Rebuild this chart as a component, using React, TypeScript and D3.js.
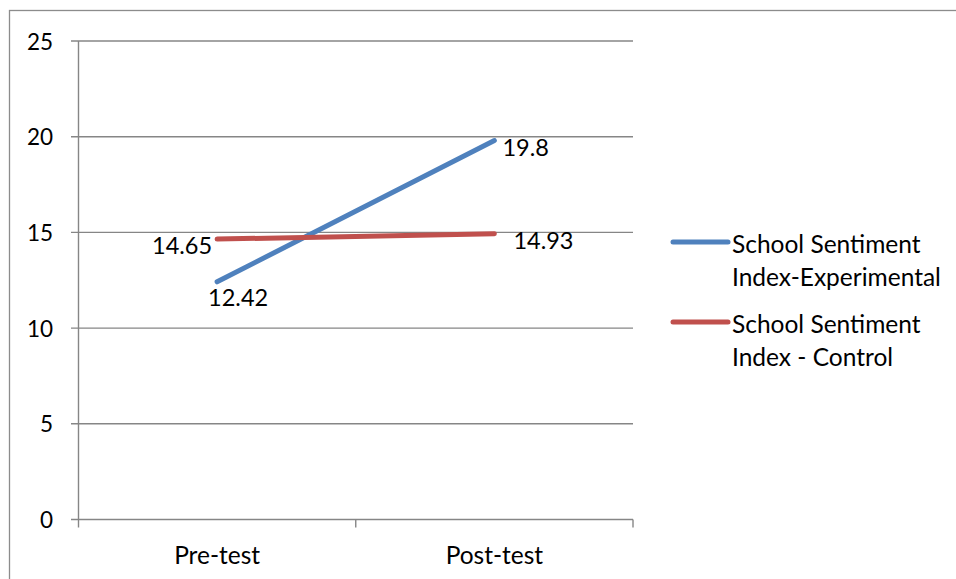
import React from "react";
import * as d3 from "d3";

const categories = ["Pre-test", "Post-test"];
const experimental = [12.42, 19.8];
const control = [14.65, 14.93];
const yTicks = [0, 5, 10, 15, 20, 25];
const seriesNames = ["School Sentiment|Index-Experimental", "School Sentiment|Index - Control"];
const colors = ["#4F81BD", "#C0504D"];

const W = 956;
const H = 579;
const FONT = "Lato, 'Open Sans', sans-serif";

export default function App() {
  const left = 78.5, right = 633, top = 41, bottom = 519.5;
  const x = d3.scaleBand<string>().domain(categories).range([left, right]);
  const y = d3.scaleLinear().domain([0, 25]).range([bottom, top]);
  const cx = (c: string) => (x(c) as number) + x.bandwidth() / 2;
  const line = d3.line<number>().x((_, i) => cx(categories[i])).y((v) => y(v));
  const series = [experimental, control];
  const grid = "#868686";

  const labelPos = [
    [ { dx: 21, dy: 15, anchor: "middle" }, { dx: 8, dy: 6, anchor: "start" } ],
    [ { dx: -5, dy: 6, anchor: "end" }, { dx: 19, dy: 6, anchor: "start" } ],
  ];

  return (
    <svg width={W} height={H} style={{ position: "absolute", left: 0, top: 0, background: "#fff" }}>
      <rect x={9.5} y={10.5} width={W + 20} height={H + 20} fill="#fff" stroke="#8c8c8c" strokeWidth={1.3} />
      {yTicks.map((t) => (
        <g key={t}>
          <line x1={left - 7.5} x2={right} y1={y(t)} y2={y(t)} stroke={grid} strokeWidth={1.4} />
          <text x={53} y={y(t)} textAnchor="end" dominantBaseline="central" fontFamily={FONT} fontSize={22.5} fill="#000">
            {t}
          </text>
        </g>
      ))}
      <line x1={left} x2={left} y1={top} y2={bottom} stroke={grid} strokeWidth={1.4} />
      {[...categories.map((c) => x(c) as number), right].map((v, i) => (
        <line key={i} x1={v} x2={v} y1={bottom} y2={bottom + 8} stroke={grid} strokeWidth={1.4} />
      ))}
      {categories.map((c) => (
        <text key={c} x={cx(c)} y={bottom + 35} textAnchor="middle" dominantBaseline="central" fontFamily={FONT} fontSize={24.5} fill="#000">
          {c}
        </text>
      ))}
      {series.map((s, si) => (
        <path key={si} d={line(s) || ""} fill="none" stroke={colors[si]} strokeWidth={5} strokeLinecap="round" />
      ))}
      {series.map((s, si) =>
        s.map((v, i) => {
          const p = labelPos[si][i];
          return (
            <text key={`${si}-${i}`} x={cx(categories[i]) + p.dx} y={y(v) + p.dy} textAnchor={p.anchor as any} dominantBaseline="central" fontFamily={FONT} fontSize={23.5} fill="#000">
              {v}
            </text>
          );
        })
      )}
      {seriesNames.map((n, i) => {
        const ly = 242 + i * 80;
        const parts = n.split("|");
        return (
          <g key={i}>
            <line x1={673} x2={728} y1={ly} y2={ly} stroke={colors[i]} strokeWidth={5} strokeLinecap="round" />
            {parts.map((p, j) => (
              <text key={j} x={732} y={ly + 1 + j * 33} dominantBaseline="central" fontFamily={FONT} fontSize={24.5} fill="#000">
                {p}
              </text>
            ))}
          </g>
        );
      })}
    </svg>
  );
}
